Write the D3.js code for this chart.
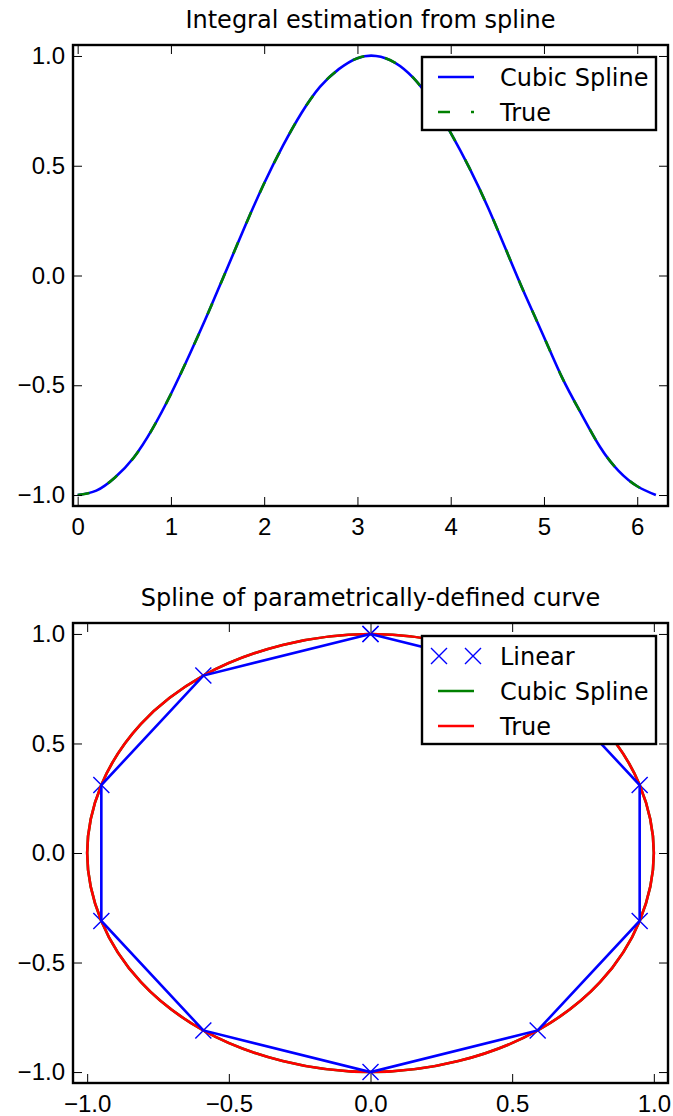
<!DOCTYPE html>
<html lang="en">
<head>
<meta charset="UTF-8">
<title>Spline examples</title>
<script src="https://d3js.org/d3.v7.min.js"></script>
<style>
    body { margin: 0; background: #fff; }
    svg { display: block; font-family: "DejaVu Sans", sans-serif; }
    .tick line { stroke: #000; stroke-width: 1; }
    .tick text { font-size: 24px; fill: #000; }
    .frame { fill: none; stroke: #000; stroke-width: 2.4; }
    .title { font-size: 24px; text-anchor: middle; }
    .leg text { font-size: 24px; }
</style>
</head>
<body>
<svg width="673" height="1116"></svg>
<script>
    // Top plot: integral estimate vs true curve
    const topX = [0, 0.2, 0.4, 0.6, 0.8, 1.0, 1.2, 1.4, 1.6, 1.8, 2.0, 2.2, 2.4, 2.6, 2.8, 3.0,
        3.2, 3.4, 3.6, 3.8, 4.0, 4.2, 4.4, 4.6, 4.8, 5.0, 5.2, 5.4, 5.6, 5.8, 6.0, 6.2];
    const splineY = [-1.00, -0.98, -0.92, -0.83, -0.70, -0.54, -0.36, -0.17, 0.03, 0.23, 0.42, 0.59,
        0.74, 0.86, 0.94, 0.99, 1.00, 0.97, 0.90, 0.79, 0.65, 0.49, 0.31, 0.11, -0.09, -0.28,
        -0.47, -0.63, -0.78, -0.89, -0.96, -1.00];
    const trueY = [-1.00, -0.98, -0.92, -0.83, -0.70, -0.54, -0.36, -0.17, 0.03, 0.23, 0.42, 0.59,
        0.74, 0.86, 0.94, 0.99, 1.00, 0.97, 0.90, 0.79, 0.65, 0.49, 0.31, 0.11, -0.09, -0.28,
        -0.47, -0.63, -0.78, -0.89, -0.96, -1.00];
    const topXTicks = [0, 1, 2, 3, 4, 5, 6];
    const topYTicks = [-1.0, -0.5, 0.0, 0.5, 1.0];

    // Bottom plot: parametric curve
    const linX = [0, 0.59, 0.95, 0.95, 0.59, 0, -0.59, -0.95, -0.95, -0.59, 0];
    const linY = [1.00, 0.81, 0.31, -0.31, -0.81, -1.00, -0.81, -0.31, 0.31, 0.81, 1.00];
    const cubicX = [0, 0.31, 0.59, 0.81, 0.95, 1.00, 0.95, 0.81, 0.59, 0.31,
        0, -0.31, -0.59, -0.81, -0.95, -1.00, -0.95, -0.81, -0.59, -0.31];
    const cubicY = [1.00, 0.95, 0.81, 0.59, 0.31, 0, -0.31, -0.59, -0.81, -0.95,
        -1.00, -0.95, -0.81, -0.59, -0.31, 0, 0.31, 0.59, 0.81, 0.95];
    const circX = [0, 0.31, 0.59, 0.81, 0.95, 1.00, 0.95, 0.81, 0.59, 0.31,
        0, -0.31, -0.59, -0.81, -0.95, -1.00, -0.95, -0.81, -0.59, -0.31];
    const circY = [1.00, 0.95, 0.81, 0.59, 0.31, 0, -0.31, -0.59, -0.81, -0.95,
        -1.00, -0.95, -0.81, -0.59, -0.31, 0, 0.31, 0.59, 0.81, 0.95];
    const botTicks = [-1.0, -0.5, 0.0, 0.5, 1.0];

    const svg = d3.select("svg");
    const left = 73, right = 668;
    const fmt1 = d3.format(".1f");
    const lw = 2.6;

    // draws frame + inward ticks on all four sides
    const makeAxes = (g, x, y, h, xTicks, yTicks, xFmt, yFmt) => {
        g.append("g").attr("transform", `translate(0,${h})`)
            .call(d3.axisBottom(x).tickValues(xTicks).tickSize(-9).tickPadding(12).tickFormat(xFmt));
        g.append("g")
            .call(d3.axisTop(x).tickValues(xTicks).tickSize(-9).tickFormat(""));
        g.append("g")
            .call(d3.axisLeft(y).tickValues(yTicks).tickSize(-9).tickPadding(8).tickFormat(yFmt));
        g.append("g").attr("transform", `translate(${x.range()[1]},0)`)
            .call(d3.axisRight(y).tickValues(yTicks).tickSize(-9).tickFormat(""));
        g.selectAll(".domain").remove();
        g.selectAll(".tick text").attr("font-family", null).attr("font-size", null);
        g.append("rect").attr("class", "frame")
            .attr("x", 0).attr("y", 0).attr("width", x.range()[1]).attr("height", h);
    };

    const cross = (cx, cy, s) => `M${cx - s},${cy - s}L${cx + s},${cy + s}M${cx - s},${cy + s}L${cx + s},${cy - s}`;

    const legend = (g, x0, y0, w, h, rows) => {
        const lg = g.append("g").attr("class", "leg");
        lg.append("rect").attr("x", x0).attr("y", y0).attr("width", w).attr("height", h)
            .attr("fill", "#fff").attr("stroke", "#000").attr("stroke-width", 2.4);
        rows.forEach((r, i) => {
            const cy = y0 + 20 + i * 35;
            if (r.marker) {
                [x0 + 17, x0 + 51].forEach(mx => {
                    lg.append("path").attr("d", cross(mx, cy, 8))
                        .attr("stroke", r.color).attr("stroke-width", 1.4);
                });
            } else {
                lg.append("line").attr("x1", x0 + 16).attr("x2", x0 + 52)
                    .attr("y1", cy).attr("y2", cy)
                    .attr("stroke", r.color).attr("stroke-width", lw)
                    .attr("stroke-dasharray", r.dash || null);
            }
            lg.append("text").attr("x", x0 + 78).attr("y", cy + 9).text(r.label);
        });
    };

    // ---------- top chart ----------
    const h1 = 461;
    const g1 = svg.append("g").attr("transform", `translate(${left},45)`);
    const x1 = d3.scaleLinear().domain([-0.05, 6.33]).range([0, right - left]);
    const y1 = d3.scaleLinear().domain([-1.05, 1.05]).range([h1, 0]);

    const line1 = ys => d3.line().curve(d3.curveNatural)
        .x((d, i) => x1(topX[i])).y(d => y1(d))(ys);

    g1.append("path").attr("d", line1(splineY))
        .attr("fill", "none").attr("stroke", "#0000ff").attr("stroke-width", lw);
    g1.append("path").attr("d", line1(trueY))
        .attr("fill", "none").attr("stroke", "#008000").attr("stroke-width", lw)
        .attr("stroke-dasharray", "12,21");

    makeAxes(g1, x1, y1, h1, topXTicks, topYTicks, d3.format("d"), fmt1);
    svg.append("text").attr("class", "title").attr("x", (left + right) / 2).attr("y", 28)
        .text("Integral estimation from spline");
    legend(svg, 422, 57, 234, 73, [
        {label: "Cubic Spline", color: "#0000ff"},
        {label: "True", color: "#008000", dash: "12,21"}
    ]);

    // ---------- bottom chart ----------
    const h2 = 460;
    const g2 = svg.append("g").attr("transform", `translate(${left},623)`);
    const x2 = d3.scaleLinear().domain([-1.05, 1.05]).range([0, right - left]);
    const y2 = d3.scaleLinear().domain([-1.05, 1.05]).range([h2, 0]);

    const closed = (xs, ys) => d3.line().curve(d3.curveCatmullRomClosed.alpha(0.5))
        .x(d => x2(d[0])).y(d => y2(d[1]))(xs.map((v, i) => [v, ys[i]]));

    const linPts = linX.map((v, i) => [v, linY[i]]);
    // markers first, then green spline, red true curve, blue linear line on top
    g2.selectAll(".mk").data(linPts).enter().append("path")
        .attr("d", d => cross(x2(d[0]), y2(d[1]), 8))
        .attr("stroke", "#0000ff").attr("stroke-width", 1.4);
    g2.append("path").attr("d", closed(cubicX, cubicY))
        .attr("fill", "none").attr("stroke", "#008000").attr("stroke-width", lw);
    g2.append("path").attr("d", closed(circX, circY))
        .attr("fill", "none").attr("stroke", "#ff0000").attr("stroke-width", lw);
    g2.append("path").attr("d", d3.line().x(d => x2(d[0])).y(d => y2(d[1]))(linPts))
        .attr("fill", "none").attr("stroke", "#0000ff").attr("stroke-width", lw);

    makeAxes(g2, x2, y2, h2, botTicks, botTicks, fmt1, fmt1);
    svg.append("text").attr("class", "title").attr("x", (left + right) / 2).attr("y", 606)
        .text("Spline of parametrically-defined curve");
    legend(svg, 422, 636, 234, 108, [
        {label: "Linear", color: "#0000ff", marker: true},
        {label: "Cubic Spline", color: "#008000"},
        {label: "True", color: "#ff0000"}
    ]);
</script>
</body>
</html>
